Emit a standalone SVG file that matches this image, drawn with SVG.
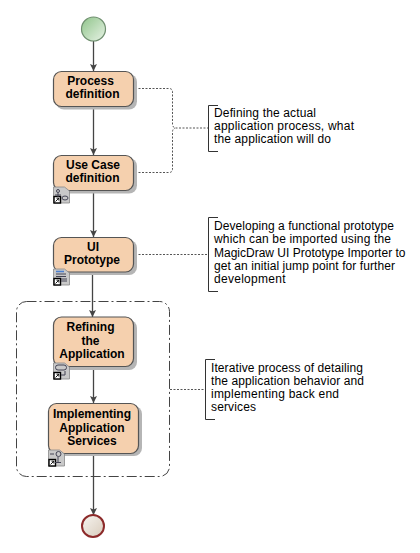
<svg xmlns="http://www.w3.org/2000/svg" width="420" height="553" viewBox="0 0 420 553">
<style>
text{font-family:"Liberation Sans",Arial,sans-serif;font-size:12px;fill:#000}
.n{font-weight:bold;text-anchor:middle}
.box{fill:#f5d0ae;stroke:#555;stroke-width:1.2}
.sh{fill:#b5b5b5}
.flow{fill:none;stroke:#444;stroke-width:1.3}
.dash{fill:none;stroke:#555;stroke-width:1;stroke-dasharray:2 1.5}
.br{fill:none;stroke:#333;stroke-width:1}
.ic{fill:#c9c9c9;stroke:#888;stroke-width:.8}
.ig{fill:none;stroke:#445;stroke-width:1}
.lk{fill:#fff;stroke:#000;stroke-width:1.4}
</style>
<defs>
<marker id="a" markerUnits="userSpaceOnUse" markerWidth="8" markerHeight="8" refX="7" refY="3.5" orient="auto"><path d="M0 0L7 3.500L0 7L1.500 3.500Z" fill="#444"/></marker>
<linearGradient id="g1" x1="0" y1="0" x2="1" y2="1"><stop offset="0" stop-color="#8fc48a"/><stop offset="1" stop-color="#e8f3e6"/></linearGradient>
<linearGradient id="g2" x1="0" y1="0" x2="1" y2="1"><stop offset="0" stop-color="#f7f5f1"/><stop offset="1" stop-color="#d8cbbb"/></linearGradient>
<g id="ln"><path class="ic" d="M0 0H11L16 4V16H0Z"/><rect class="lk" x="0.500" y="9.500" width="6.500" height="6.500"/><path d="M2 14.500L5.200 11.300M3 11.200H5.300V13.500" fill="none" stroke="#000" stroke-width=".9"/></g>
</defs>
<g id="connectors">
<path class="flow" marker-end="url(#a)" d="M93.500 41V71"/>
<path class="flow" marker-end="url(#a)" d="M93.500 106.500V155"/>
<path class="flow" marker-end="url(#a)" d="M93.500 190.500V237"/>
<path class="flow" marker-end="url(#a)" d="M92.500 272V317"/>
<path class="flow" marker-end="url(#a)" d="M93.500 367V403"/>
<path class="flow" marker-end="url(#a)" d="M93.500 453V515"/>
<path class="dash" d="M135 88.500H169Q172.500 88.500 172.500 92V124Q172.500 127 175 128H208"/>
<path class="dash" d="M135 172.500H169Q172.500 172.500 172.500 169V132Q172.500 129 175 128"/>
<path class="dash" d="M135 254.500H208"/>
<path class="dash" d="M170 389.500H205"/>
</g>
<g id="start"><circle cx="93.500" cy="29" r="12" fill="url(#g1)" stroke="#6f8f6f" stroke-width="1.200"/></g>
<g id="frame"><rect x="16.500" y="301.500" width="153" height="175" rx="10" fill="none" stroke="#444" stroke-width="1" stroke-dasharray="10 3 2 3"/></g>
<g id="process"><rect class="sh" x="56" y="74" width="81" height="35.500" rx="8"/><rect class="box" x="53.500" y="71.500" width="80" height="35" rx="8"/><text class="n" x="90.500" y="85">Process</text><text class="n" x="92.500" y="98">definition</text></g>
<g id="usecase"><rect class="sh" x="56" y="158" width="81" height="35.500" rx="8"/><rect class="box" x="53.500" y="155.500" width="80" height="35" rx="8"/><text class="n" x="93" y="169">Use Case</text><text class="n" x="92.500" y="182">definition</text>
<use href="#ln" x="53.500" y="187"/><g class="ig"><circle cx="58" cy="191" r="1.500"/><path d="M58 193V197M55 195H61"/><ellipse cx="65" cy="198" rx="3" ry="2"/></g></g>
<g id="ui"><rect class="sh" x="56" y="240" width="81" height="35" rx="8"/><rect class="box" x="53.500" y="237.500" width="80" height="34.500" rx="8"/><text class="n" x="93" y="251">UI</text><text class="n" x="92" y="264">Prototype</text>
<use href="#ln" x="53.500" y="269"/><path d="M56 271.500H64" stroke="#4a7fd0" stroke-width="1.500"/><path d="M56 274H66M56 276.500H66M61 279H67M61 281H67" stroke="#445" stroke-width="1"/></g>
<g id="refining"><rect class="sh" x="56" y="320" width="81" height="50" rx="8"/><rect class="box" x="53.500" y="317" width="80" height="49.500" rx="8"/><text class="n" x="90.500" y="331">Refining</text><text class="n" x="90.500" y="344.500">the</text><text class="n" x="92" y="358">Application</text>
<use href="#ln" x="53.500" y="363"/><rect x="55.500" y="365" width="11" height="5" rx="2.500" class="ig"/><path class="ig" d="M65 371V375H61"/></g>
<g id="implementing"><rect class="sh" x="51" y="406" width="91" height="50" rx="8"/><rect class="box" x="48.500" y="403.500" width="90" height="50" rx="8"/><text class="n" x="92" y="418">Implementing</text><text class="n" x="92" y="431.500">Application</text><text class="n" x="92" y="444.500">Services</text>
<use href="#ln" x="48.500" y="450"/><path class="ig" d="M50 454H54M56 454A2.500 2.500 0 1 0 61 454A2.500 2.500 0 1 0 56 454M58 457V462M55 462.500H61"/></g>
<g id="end"><circle cx="93" cy="526" r="11" fill="url(#g2)" stroke="#8c2a2a" stroke-width="2"/></g>
<g id="note1"><path class="br" d="M218 105.500H208.500V151.500H218"/><text x="214" y="117" textLength="102">Defining the actual</text><text x="214" y="130" textLength="140">application process, what</text><text x="214" y="143" textLength="117">the application will do</text></g>
<g id="note2"><path class="br" d="M218 217.500H208.500V291.500H218"/><text x="214" y="230" textLength="180">Developing a functional prototype</text><text x="214" y="243" textLength="177">which can be imported using the</text><text x="214" y="257" textLength="191.500">MagicDraw UI Prototype Importer to</text><text x="214" y="270" textLength="181">get an initial jump point for further</text><text x="214" y="283" textLength="71.500">development</text></g>
<g id="note3"><path class="br" d="M215 359.500H205.500V419.500H215"/><text x="211" y="372" textLength="152">Iterative process of detailing</text><text x="211" y="385" textLength="153">the application behavior and</text><text x="211" y="398" textLength="128">implementing back end</text><text x="211" y="411" textLength="45">services</text></g>
</svg>
